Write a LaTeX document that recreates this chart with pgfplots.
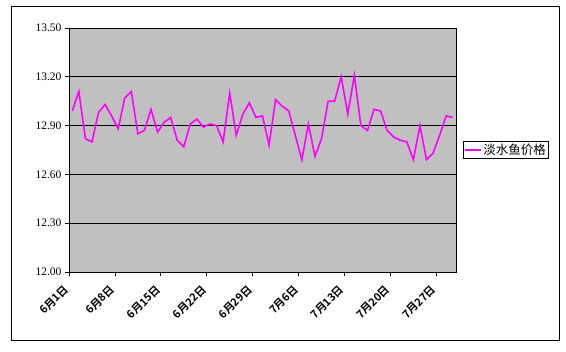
\documentclass[border=0pt]{standalone}
\usepackage{fontspec}
\setmainfont{Liberation Serif}
\newfontfamily\cjk{Noto Sans CJK SC}
\newfontfamily\cjkb{Noto Sans CJK SC Bold}
\usepackage{pgfplots}
\pgfplotsset{compat=1.18}
\definecolor{plotbg}{RGB}{192,192,192}
\definecolor{mag}{RGB}{255,0,255}
\begin{document}
\begin{tikzpicture}[x=1pt,y=1pt]
\path[use as bounding box] (0,0) rectangle (566,352);
\draw[black, line width=1pt] (11,11) rectangle (559,345);
\begin{axis}[
  at={(69pt,80pt)}, anchor=south west,
  scale only axis, width=387pt, height=244pt,
  xmin=-0.5, xmax=58.5, ymin=12, ymax=13.5,
  ytick={12.0,12.3,12.6,12.9,13.2,13.5},
  /pgf/number format/fixed, /pgf/number format/fixed zerofill, /pgf/number format/precision=2,
  /pgf/number format/assume math mode=true,
  yticklabel style={font=\fontsize{11.5}{13}\selectfont},
  ymajorgrids, grid style={black, line width=0.7pt},
  xtick={-0.5,6.5,13.5,20.5,27.5,34.5,41.5,48.5,55.5},
  xticklabels={6月1日,6月8日,6月15日,6月22日,6月29日,7月6日,7月13日,7月20日,7月27日},
  xticklabel style={rotate=45, anchor=east, font=\cjkb\fontsize{11}{12}\selectfont},
  xticklabel shift=9pt,
  tick align=outside, major tick length=4pt, tick pos=left,
  axis background/.style={fill=plotbg},
  axis line style={black, line width=0.7pt},
  tick style={black, line width=0.7pt},
  legend style={at={(1.018,0.5)}, anchor=west, draw=black, line width=0.7pt, font=\cjk\fontsize{12.5}{14}\selectfont, inner sep=0.5pt},
  legend image code/.code={\draw[#1] (0pt,0pt) -- (16pt,0pt);},
]
\addplot[mag, line width=1.6pt, mark=none] table {
x y
0 12.99
1 13.11
2 12.82
3 12.80
4 12.98
5 13.03
6 12.96
7 12.88
8 13.07
9 13.11
10 12.85
11 12.87
12 13.00
13 12.86
14 12.92
15 12.95
16 12.81
17 12.77
18 12.91
19 12.94
20 12.89
21 12.91
22 12.90
23 12.80
24 13.10
25 12.84
26 12.97
27 13.04
28 12.95
29 12.96
30 12.78
31 13.06
32 13.02
33 12.99
34 12.84
35 12.69
36 12.91
37 12.71
38 12.82
39 13.05
40 13.05
41 13.20
42 12.97
43 13.21
44 12.90
45 12.87
46 13.00
47 12.99
48 12.87
49 12.83
50 12.81
51 12.80
52 12.69
53 12.90
54 12.69
55 12.73
56 12.84
57 12.96
58 12.95
};
\legend{淡水鱼价格}
\end{axis}
\end{tikzpicture}
\end{document}
